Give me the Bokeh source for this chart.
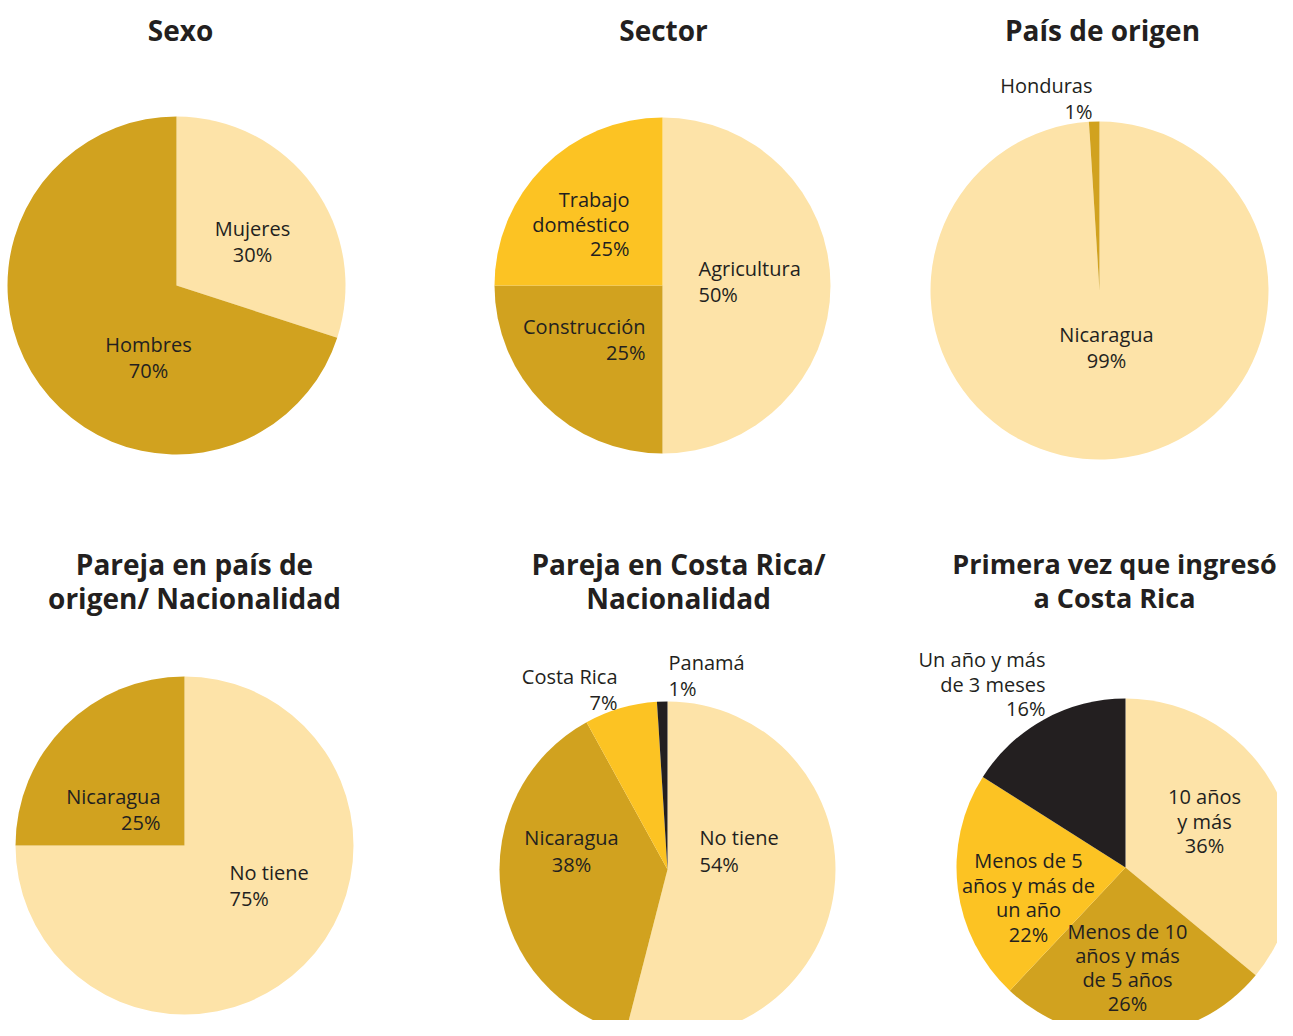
import math
from bokeh.plotting import figure
from bokeh.models import Range1d, ColumnDataSource
from bokeh.core.properties import value
from bokeh.embed import file_html
from bokeh.resources import INLINE

# ---------------- data ----------------
sexo_cats = ["Mujeres", "Hombres"]
sexo_vals = [30, 70]

sector_cats = ["Agricultura", "Construcción", "Trabajo\ndoméstico"]
sector_vals = [50, 25, 25]

origen_cats = ["Nicaragua", "Honduras"]
origen_vals = [99, 1]

pareja_origen_cats = ["No tiene", "Nicaragua"]
pareja_origen_vals = [75, 25]

pareja_cr_cats = ["No tiene", "Nicaragua", "Costa Rica", "Panamá"]
pareja_cr_vals = [54, 38, 7, 1]

ingreso_cats = ["10 años\ny más", "Menos de 10\naños y más\nde 5 años",
                "Menos de 5\naños y más de\nun año", "Un año y más\nde 3 meses"]
ingreso_vals = [36, 26, 22, 16]

titles = ["Sexo", "Sector", "País de origen",
          "Pareja en país de\norigen/ Nacionalidad",
          "Pareja en Costa Rica/\nNacionalidad",
          "Primera vez que ingresó\na Costa Rica"]

# ---------------- styles / layout ----------------
LIGHT = "#FDE3A8"
GOLD = "#D1A21F"
YELLOW = "#FCC323"
BLACK = "#231F20"
TEXT = "#231F20"

pies = [
    dict(cats=sexo_cats, vals=sexo_vals, colors=[LIGHT, GOLD], c=(176, 285), r=169,
         title=(180, 29, 28), lh=26,
         labels=[(252, 228, "center", 26), (148, 344, "center", 26)]),
    dict(cats=sector_cats, vals=sector_vals, colors=[LIGHT, GOLD, YELLOW], c=(662, 285), r=168,
         title=(663, 29, 28),
         labels=[(698, 268, "left", 26), (645, 326, "right", 26), (629, 199, "right", 24.5)]),
    dict(cats=origen_cats, vals=origen_vals, colors=[LIGHT, GOLD], c=(1099, 290), r=169,
         title=(1102, 29, 28),
         labels=[(1106, 334, "center", 26), (1092, 85, "right", 26)]),
    dict(cats=pareja_origen_cats, vals=pareja_origen_vals, colors=[LIGHT, GOLD], c=(184, 845), r=169,
         title=(194, 563, 28),
         labels=[(229, 872, "left", 26), (160, 796, "right", 26)]),
    dict(cats=pareja_cr_cats, vals=pareja_cr_vals, colors=[LIGHT, GOLD, YELLOW, BLACK], c=(667, 869), r=168,
         title=(678, 563, 28),
         labels=[(699, 837, "left", 26.5), (571, 837, "center", 26.5),
                 (617, 676, "right", 26), (668, 662, "left", 26)]),
    dict(cats=ingreso_cats, vals=ingreso_vals, colors=[LIGHT, GOLD, YELLOW, BLACK], c=(1125, 867), r=169,
         title=(1114, 563, 27),
         labels=[(1204, 796, "center", 24.5), (1127, 931, "center", 24),
                 (1028, 860, "center", 24.5), (1045, 659, "right", 24.5)]),
]

W, H = 1277, 1020
SCREEN_H = 1036


def sy(y):
    """picture y -> data y"""
    return SCREEN_H - y


p = figure(width=W, height=H, output_backend="svg", toolbar_location=None,
           x_range=Range1d(0, W), y_range=Range1d(SCREEN_H - H, SCREEN_H),
           min_border=0, outline_line_color=None, background_fill_color="white",
           border_fill_color="white")
p.axis.visible = False
p.grid.visible = False

for i, pie in enumerate(pies):
    total = float(sum(pie["vals"]))
    cx, cy = pie["c"]
    starts, ends = [], []
    acc = 0.0
    for v in pie["vals"]:
        starts.append(math.pi / 2 - 2 * math.pi * acc / total)
        acc += v
        ends.append(math.pi / 2 - 2 * math.pi * acc / total)
    src = ColumnDataSource(dict(x=[cx] * len(starts), y=[sy(cy)] * len(starts),
                                s=starts, e=ends, color=pie["colors"]))
    p.wedge(x="x", y="y", radius=pie["r"], start_angle="s", end_angle="e",
            direction="clock", fill_color="color", line_color=None, source=src)

    # slice labels
    for cat, v, (lx, ly, al, lh) in zip(pie["cats"], pie["vals"], pie["labels"]):
        lines = cat.split("\n") + ["%d%%" % v]
        ys = [sy(ly + k * lh) for k in range(len(lines))]
        p.text(x=[lx] * len(lines), y=ys, text=lines, text_align=al, text_baseline="middle",
               text_font=value("Open Sans"), text_font_size="20px", text_color=TEXT)

    # title
    tx, ty, tfs = pie["title"]
    tl = titles[i].split("\n")
    p.text(x=[tx] * len(tl), y=[sy(ty + k * 34) for k in range(len(tl))], text=tl,
           text_align="center", text_baseline="middle", text_font=value("Open Sans"),
           text_font_style="bold", text_font_size="%dpx" % tfs, text_color=TEXT)

open("out.html", "w").write(file_html(p, INLINE))
